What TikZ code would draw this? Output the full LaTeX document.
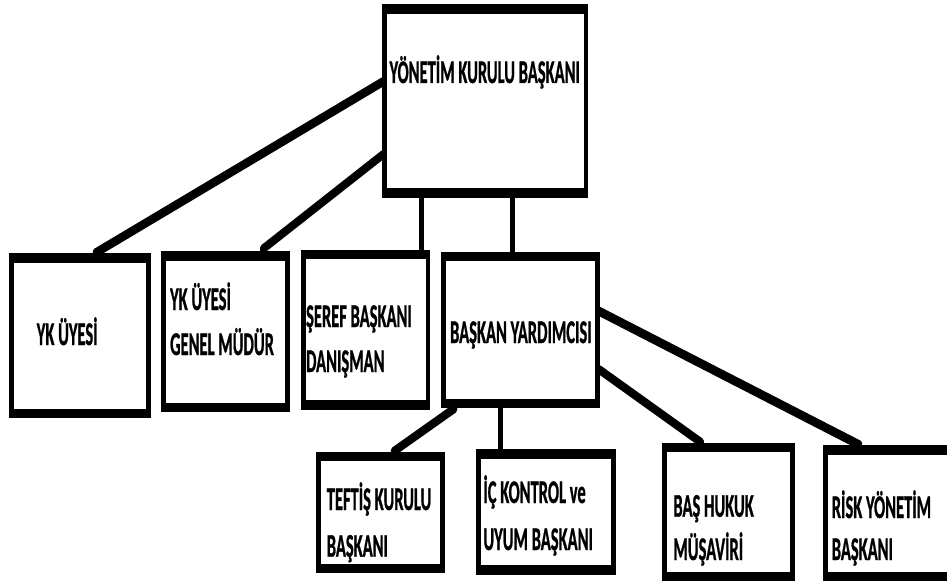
\documentclass[tikz,border=0pt]{standalone}
\usepackage{fontspec}
\setmainfont{Carlito}[BoldFeatures={FakeBold=1.2}]
\usetikzlibrary{calc}
\begin{document}
\begin{tikzpicture}[
  box/.style={draw=black, fill=white, line width=9.5pt, rectangle, inner sep=0pt},
  link/.style={draw=black, line width=9.5pt, line cap=round},
  vlink/.style={draw=black, line width=9.5pt},
  lbl/.style={anchor=base west, inner sep=0pt, text=black,
              font=\fontsize{33}{40}\selectfont\bfseries}
]
\useasboundingbox (0pt,0pt) rectangle (947pt,-585pt);
\fill[white] (0pt,0pt) rectangle (947pt,-585pt);
% the chart is laid out wide and then squeezed to half width
\begin{scope}[transform canvas={xscale=0.5}, x=2pt, y=-1pt]
  % boxes
  \node[box, minimum width=402.6pt, minimum height=184pt]   (ykb) at (485.4,101)    {};
  \node[box, minimum width=274.8pt, minimum height=155.3pt] (yku) at (80,335.7)     {};
  \node[box, minimum width=247.4pt, minimum height=151.3pt] (gm)  at (225.35,331.65){};
  \node[box, minimum width=248.4pt, minimum height=150.7pt] (sb)  at (365.9,329.65) {};
  \node[box, minimum width=308.4pt, minimum height=147pt]   (by)  at (520.4,329.8)  {};
  \node[box, minimum width=248.4pt, minimum height=111.6pt] (tk)  at (380.4,512.5)  {};
  \node[box, minimum width=270.2pt, minimum height=116.2pt] (ic)  at (545.75,511.9) {};
  \node[box, minimum width=256.6pt, minimum height=129pt]   (hk)  at (728.35,512.2) {};
  \node[box, minimum width=269.6pt, minimum height=126.7pt] (rk)  at (892.6,513.35) {};

  % connectors from the chairman
  \draw[link] ($(ykb.north west)!0.402!(ykb.south west)$) -- ($(yku.north west)!0.605!(yku.north east)$);
  \draw[link, shorten >=5pt] ($(ykb.north west)!0.779!(ykb.south west)$) -- ($(gm.north west)!0.77!(gm.north east)$);
  \coordinate (sbtop) at ($(sb.north west)!0.933!(sb.north east)$);
  \draw[vlink] (sbtop) -- (sbtop |- ykb.south);
  \coordinate (bytop) at ($(by.north west)!0.449!(by.north east)$);
  \draw[vlink] (bytop) -- (bytop |- ykb.south);

  % connectors from the vice chairman
  \draw[link] ($(by.south west)!0.089!(by.south east)$) -- ($(tk.north west)!0.598!(tk.north east)$);
  \coordinate (ictop) at ($(ic.north west)!0.176!(ic.north east)$);
  \draw[vlink] (ictop) -- (ictop |- by.south);
  \draw[link] ($(by.north east)!0.384!(by.south east)$) -- ([xshift=74.4pt]rk.north west);
  \draw[link] ($(by.north east)!0.757!(by.south east)$) -- ($(hk.north west)!0.3!(hk.north east)$);

  % titles
  \node[lbl] (t-ykb)  at (389.5,83)   {YÖNETİM KURULU BAŞKANI};
  \node[lbl] (t-yku)  at (36.7,345)   {YK ÜYESİ};
  \node[lbl] (t-gm1)  at (170,310)    {YK ÜYESİ};
  \node[lbl] (t-gm2)  at (170,355)    {GENEL MÜDÜR};
  \node[lbl] (t-sb1)  at (306,327)    {ŞEREF BAŞKANI};
  \node[lbl] (t-sb2)  at (306,372)    {DANIŞMAN};
  \node[lbl] (t-by)   at (450,343)    {BAŞKAN YARDIMCISI};
  \node[lbl] (t-tk1)  at (326.7,510)  {TEFTİŞ KURULU};
  \node[lbl] (t-tk2)  at (326.7,556.7){BAŞKANI};
  \node[lbl] (t-ic1)  at (483.3,503)  {İÇ KONTROL ve};
  \node[lbl] (t-ic2)  at (483.3,550)  {UYUM BAŞKANI};
  \node[lbl] (t-hk1)  at (673.3,516.7){BAŞ HUKUK};
  \node[lbl] (t-hk2)  at (673.3,560)  {MÜŞAVİRİ};
  \node[lbl] (t-rk1)  at (831.7,518)  {RİSK YÖNETİM};
  \node[lbl] (t-rk2)  at (831.7,560)  {BAŞKANI};
\end{scope}
\end{tikzpicture}
\end{document}
